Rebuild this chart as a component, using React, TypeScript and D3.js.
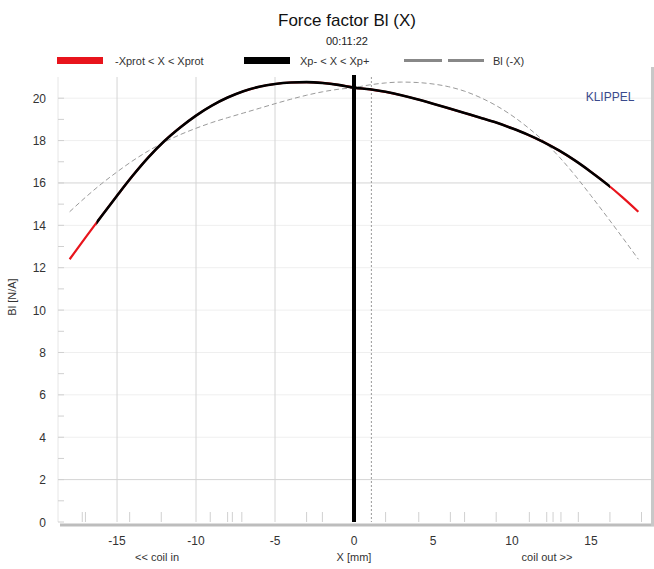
import React from "react";
import * as d3 from "d3";

const xPos = [-18, -17, -16, -15, -14, -13, -12, -11, -10, -9, -8, -7, -6, -5, -4, -3, -2, -1, 0, 1, 2, 3, 4, 5, 6, 7, 8, 9, 10, 11, 12, 13, 14, 15, 16, 17, 18];
const blValues = [12.4, 13.42, 14.42, 15.4, 16.35, 17.22, 17.98, 18.62, 19.18, 19.65, 20.03, 20.33, 20.54, 20.67, 20.74, 20.76, 20.72, 20.63, 20.5, 20.42, 20.3, 20.14, 19.95, 19.74, 19.52, 19.3, 19.08, 18.85, 18.58, 18.28, 17.93, 17.52, 17.05, 16.52, 15.95, 15.32, 14.64];
const xProtLimits = [-16.3, 16.2];
const xDottedMarker = 1.1;
const xTickValues = [-15, -10, -5, 0, 5, 10, 15];
const xGridValues = [-15, -10, -5];
const yTickValues = [0, 2, 4, 6, 8, 10, 12, 14, 16, 18, 20];
const yMinorTicks = [1, 3, 5, 7, 9, 11, 13, 15, 17, 19];
const xMeasureTicks = [-17.2, -17, -14.2, -12.2, -9.1, -8.0, -7.7, -7.1, -3.0, -2.0, 2.0, 4.1, 6.1, 7.0, 9.0, 11.1, 12.2, 12.6, 13.1, 14.2, 16.2, 18.2];
const legendLabels = ["-Xprot < X < Xprot", "Xp- < X < Xp+", "Bl (-X)"];

const W = 654, H = 569;
const left = 58, right = 652, top = 77, bottom = 522;

export default function App() {
  const x = d3.scaleLinear().domain([-18.8, 18.8]).range([left - 1, right - 1]);
  const y = d3.scaleLinear().domain([0, 21]).range([bottom, top]);
  const pts: [number, number][] = xPos.map((v, i) => [v, blValues[i]]);
  const mirror: [number, number][] = xPos.map((v, i) => [-v, blValues[i]]).reverse() as [number, number][];
  const line = d3.line<[number, number]>().x(d => x(d[0])).y(d => y(d[1])).curve(d3.curveMonotoneX);
  const font = "Liberation Sans, Arial, sans-serif";
  const clipX0 = x(xProtLimits[0]);
  const clipX1 = x(xProtLimits[1]);
  return (
    <svg width={W} height={H} style={{ position: "absolute", left: 0, top: 0, background: "#fff" }} fontFamily={font}>
      <defs>
        <clipPath id="mid">
          <rect x={clipX0} y={0} width={clipX1 - clipX0} height={H} />
        </clipPath>
      </defs>
      <text x={347} y={26} textAnchor="middle" fontSize={17} fill="#111">Force factor Bl (X)</text>
      <text x={347} y={45} textAnchor="middle" fontSize={11} fill="#222">00:11:22</text>
      <rect x={57} y={57} width={46} height={7} fill="#e8141c" />
      <text x={115} y={64.5} fontSize={11} fill="#333">{legendLabels[0]}</text>
      <rect x={244} y={57} width={46} height={7} fill="#000" />
      <text x={300} y={64.5} fontSize={11} fill="#333">{legendLabels[1]}</text>
      <line x1={404} x2={484} y1={60.5} y2={60.5} stroke="#888" strokeWidth={3} strokeDasharray="38 6" />
      <text x={493} y={64.5} fontSize={11} fill="#333">{legendLabels[2]}</text>
      {yTickValues.filter(v => v > 0).map(v => (
        <line key={"gy" + v} x1={left} x2={right} y1={y(v)} y2={y(v)} stroke={v === 2 || v === 16 ? "#d4d4d4" : "#efefef"} strokeWidth={1} />
      ))}
      {xGridValues.map(v => (
        <line key={"gx" + v} x1={x(v)} x2={x(v)} y1={top} y2={bottom} stroke="#d4d4d4" strokeWidth={1} />
      ))}
      <line x1={left} x2={left} y1={top} y2={bottom} stroke="#e6e6e6" strokeWidth={1} />
      {yMinorTicks.map(v => (
        <line key={"my" + v} x1={left} x2={left + 6} y1={y(v)} y2={y(v)} stroke="#d0d0d0" strokeWidth={1} />
      ))}
      {yTickValues.map(v => (
        <line key={"ty" + v} x1={left} x2={left + 6} y1={y(v)} y2={y(v)} stroke="#d0d0d0" strokeWidth={1} />
      ))}
      {xMeasureTicks.map((v, i) => (
        <line key={"mx" + i} x1={x(v)} x2={x(v)} y1={bottom} y2={bottom - 10} stroke="#d0d0d0" strokeWidth={1} />
      ))}
      <line x1={x(xDottedMarker)} x2={x(xDottedMarker)} y1={top} y2={bottom} stroke="#999" strokeWidth={1} strokeDasharray="2 2" />
      <path d={line(mirror) || ""} fill="none" stroke="#9a9a9a" strokeWidth={1} strokeDasharray="5 3" />
      <path d={line(pts) || ""} fill="none" stroke="#e8141c" strokeWidth={2.2} />
      <path d={line(pts) || ""} fill="none" stroke="#000" strokeWidth={2.6} clipPath="url(#mid)" />
      <line x1={x(0)} x2={x(0)} y1={top - 2} y2={bottom} stroke="#000" strokeWidth={4} />
      <line x1={left + 2} x2={W} y1={bottom + 3} y2={bottom + 3} stroke="#bdbdbd" strokeWidth={3} />
      <line x1={right + 0.5} x2={right + 0.5} y1={top - 10} y2={bottom + 4} stroke="#c8c8c8" strokeWidth={3} />
      {yTickValues.map(v => (
        <text key={"ly" + v} x={46} y={y(v) + 4.5} textAnchor="end" fontSize={12} fill="#333">{v}</text>
      ))}
      {xTickValues.map(v => (
        <text key={"lx" + v} x={x(v)} y={545} textAnchor="middle" fontSize={12} fill="#333">{v}</text>
      ))}
      <text x={157} y={561} textAnchor="middle" fontSize={11} fill="#333">{"<< coil in"}</text>
      <text x={x(0)} y={561} textAnchor="middle" fontSize={11} fill="#333">X [mm]</text>
      <text x={547} y={561} textAnchor="middle" fontSize={11} fill="#333">{"coil out >>"}</text>
      <text transform={`translate(16, 297) rotate(-90)`} textAnchor="middle" fontSize={11} fill="#333">Bl [N/A]</text>
      <text x={610} y={101} textAnchor="middle" fontSize={12} fill="#3a4a8c">KLIPPEL</text>
    </svg>
  );
}
